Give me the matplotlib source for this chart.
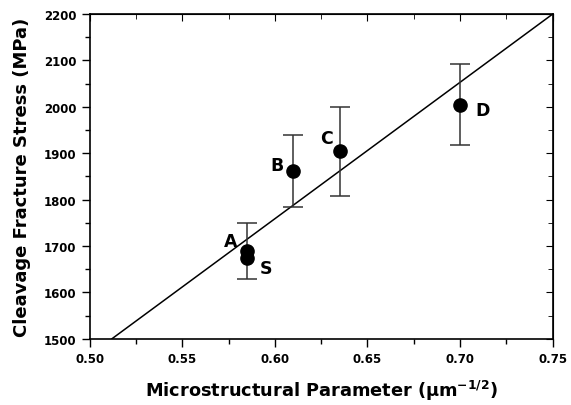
import matplotlib
matplotlib.use("Agg")
import matplotlib.pyplot as plt
import numpy as np

plt.rcParams['font.family'] = ['DejaVu Sans']
plt.rcParams['mathtext.fontset'] = 'dejavusans'

labels = ['A', 'S', 'B', 'C', 'D']
x_vals = [0.585, 0.585, 0.61, 0.635, 0.70]
y_vals = [1690, 1674, 1862, 1904, 2005]
err_low = [1630, 1630, 1785, 1808, 1917]
err_high = [1750, 1750, 1940, 2000, 2092]
label_dx = [-0.009, 0.010, -0.009, -0.007, 0.012]
label_dy = [20, -22, 12, 28, -12]

fit_x = [0.512, 0.75]
fit_y = [1500, 2200]

fig = plt.figure(figsize=(5.71, 4.06), dpi=100)
ax = fig.add_axes([0.157, 0.163, 0.811, 0.800])

ax.plot(fit_x, fit_y, color='black', lw=1.1, zorder=2)

ex, elo, ehi = [], [], []
for x, lo, hi in zip(x_vals, err_low, err_high):
    if x not in ex:
        ex.append(x); elo.append(lo); ehi.append(hi)
emid = [(l + h) / 2 for l, h in zip(elo, ehi)]
ax.errorbar(ex, emid, yerr=[[m - l for m, l in zip(emid, elo)], [h - m for h, m in zip(ehi, emid)]],
            fmt='none', ecolor='#333333', elinewidth=1.1, capsize=7, capthick=1.1, zorder=3)

ax.plot(x_vals, y_vals, 'o', color='black', markersize=9.5, zorder=4)

for lab, x, y, dx, dy in zip(labels, x_vals, y_vals, label_dx, label_dy):
    ax.text(x + dx, y + dy, lab, fontsize=12.5, fontweight='bold', ha='center', va='center')

ax.set_xlim(0.50, 0.75)
ax.set_ylim(1500, 2200)
ax.set_xticks(np.arange(0.50, 0.7501, 0.05))
ax.set_xticks(np.arange(0.525, 0.75, 0.05), minor=True)
ax.set_yticks(np.arange(1500, 2201, 100))
ax.set_yticks(np.arange(1550, 2200, 100), minor=True)
ax.set_xticklabels([f'{v:.2f}' for v in np.arange(0.50, 0.7501, 0.05)])

ax.tick_params(which='both', direction='out', top=False, right=False, width=1.0,
               labelsize=8.5)
ax.tick_params(which='major', length=6)
ax.tick_params(which='minor', length=3.5)
for lbl in ax.get_xticklabels() + ax.get_yticklabels():
    lbl.set_fontweight('bold')

secx = ax.secondary_xaxis('top')
secx.set_xticks(np.arange(0.50, 0.7501, 0.05))
secx.set_xticks(np.arange(0.525, 0.75, 0.05), minor=True)
secx.tick_params(which='both', direction='in', labeltop=False)
secx.tick_params(which='major', length=5)
secx.tick_params(which='minor', length=3.5)
secx.set_xticklabels([])
secy = ax.secondary_yaxis('right')
secy.set_yticks(np.arange(1500, 2201, 100))
secy.set_yticks(np.arange(1550, 2200, 100), minor=True)
secy.tick_params(which='both', direction='in')
secy.tick_params(which='major', length=5)
secy.tick_params(which='minor', length=3.5)
secy.set_yticklabels([])

for sp in ax.spines.values():
    sp.set_linewidth(1.2)

ax.set_xlabel(r'Microstructural Parameter (μm$^{\mathbf{-1/2}}$)', fontsize=12.8,
              fontweight='bold', labelpad=9)
ax.set_ylabel('Cleavage Fracture Stress (MPa)', fontsize=13, fontweight='bold', labelpad=9)

fig.savefig('out.png', dpi=100)
